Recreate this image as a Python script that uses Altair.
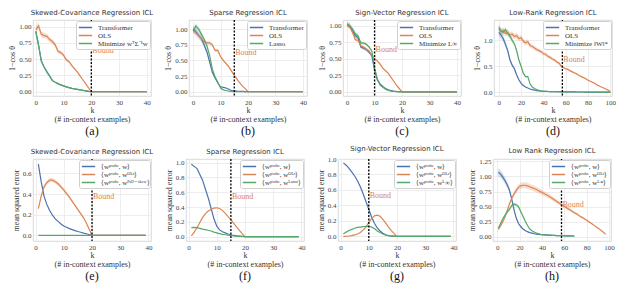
import altair as alt
import pandas as pd

# ---------------- data ----------------
K40 = list(range(0, 41))
K39 = list(range(1, 40))
D_K = list(range(0, 101, 2))
H_K = list(range(1, 98, 2))
H_K_SHORT = list(range(1, 70, 2))

# (a) Skewed-Covariance, 1 - cos
A_TRANSFORMER = [0.92, 0.71, 0.47, 0.38, 0.30, 0.24, 0.17, 0.145, 0.125, 0.105, 0.09, 0.075, 0.063, 0.053, 0.044,
                 0.036, 0.028, 0.021, 0.014, 0.007, 0.0,
                 0, 0, 0, 0, 0, 0, 0, 0, 0, 0, 0, 0, 0, 0, 0, 0, 0, 0, 0, 0]
A_OLS = [0.95, 1.01, 0.88, 0.86, 0.85, 0.80, 0.77, 0.72, 0.62, 0.60, 0.56, 0.49, 0.46, 0.40, 0.35,
         0.30, 0.24, 0.18, 0.12, 0.06, 0.0,
         0, 0, 0, 0, 0, 0, 0, 0, 0, 0, 0, 0, 0, 0, 0, 0, 0, 0, 0, 0]
A_MIN = [0.93, 0.72, 0.47, 0.38, 0.31, 0.24, 0.17, 0.145, 0.125, 0.105, 0.09, 0.075, 0.063, 0.053, 0.044,
         0.036, 0.028, 0.021, 0.014, 0.007, 0.0,
         0, 0, 0, 0, 0, 0, 0, 0, 0, 0, 0, 0, 0, 0, 0, 0, 0, 0, 0, 0]

# (b) Sparse
B_TRANSFORMER = [1.0, 0.96, 0.90, 0.85, 0.75, 0.64, 0.48, 0.31, 0.22, 0.14, 0.08, 0.07, 0.06, 0.04, 0.02,
                 0.015, 0.01, 0.007, 0.005, 0.003, 0.0,
                 0, 0, 0, 0, 0, 0, 0, 0, 0, 0, 0, 0, 0, 0, 0, 0, 0, 0, 0, 0]
B_OLS = [0.98, 0.94, 0.90, 0.85, 0.80, 0.78, 0.78, 0.75, 0.66, 0.66, 0.56, 0.50, 0.45, 0.40, 0.33,
         0.26, 0.20, 0.14, 0.09, 0.05, 0.0,
         0, 0, 0, 0, 0, 0, 0, 0, 0, 0, 0, 0, 0, 0, 0, 0, 0, 0, 0, 0]
B_LASSO = [0.97, 1.05, 1.00, 0.92, 0.84, 0.74, 0.58, 0.36, 0.24, 0.15, 0.06, 0.03, 0.02, 0.01, 0.005,
           0.003, 0.002, 0.001, 0.0, 0.0, 0.0,
           0, 0, 0, 0, 0, 0, 0, 0, 0, 0, 0, 0, 0, 0, 0, 0, 0, 0, 0, 0]

# (c) Sign-Vector
C_TRANSFORMER = [1.02, 1.0, 0.92, 0.85, 0.82, 0.68, 0.66, 0.64, 0.60, 0.55, 0.33, 0.18, 0.12, 0.08, 0.05,
                 0.03, 0.02, 0.01, 0.005, 0.002, 0.0,
                 0, 0, 0, 0, 0, 0, 0, 0, 0, 0, 0, 0, 0, 0, 0, 0, 0, 0, 0, 0]
C_OLS = [1.01, 0.98, 0.90, 0.79, 0.78, 0.70, 0.68, 0.65, 0.62, 0.55, 0.50, 0.47, 0.42, 0.36, 0.32,
         0.28, 0.22, 0.16, 0.10, 0.05, 0.0,
         0, 0, 0, 0, 0, 0, 0, 0, 0, 0, 0, 0, 0, 0, 0, 0, 0, 0, 0, 0]
C_MIN = [1.03, 1.0, 0.95, 0.88, 0.85, 0.74, 0.74, 0.72, 0.68, 0.62, 0.36, 0.20, 0.10, 0.07, 0.04,
         0.02, 0.01, 0.005, 0.002, 0.0, 0.0,
         0, 0, 0, 0, 0, 0, 0, 0, 0, 0, 0, 0, 0, 0, 0, 0, 0, 0, 0, 0]

# (d) Low-Rank (k = 0, 2, ..., 100)
D_TRANSFORMER = [1.15, 1.10, 1.03, 0.92, 0.80, 0.62, 0.52, 0.45, 0.33, 0.24, 0.17, 0.13, 0.10, 0.08, 0.06,
                 0.05, 0.04, 0.03, 0.025, 0.02, 0.017, 0.015, 0.013, 0.012, 0.011, 0.01, 0.009, 0.008,
                 0.007, 0.006, 0.005,
                 0.005, 0.004, 0.004, 0.004, 0.003, 0.003, 0.003, 0.003, 0.002, 0.002, 0.002, 0.002,
                 0.002, 0.001, 0.001, 0.001, 0.001, 0.001, 0.001, 0.0]
D_OLS = [1.22, 1.16, 1.19, 1.13, 1.15, 1.10, 1.12, 1.07, 1.09, 1.03, 1.05, 0.98, 0.95, 0.97, 0.90,
         0.88, 0.85, 0.82, 0.80, 0.78, 0.74, 0.73, 0.69, 0.67, 0.64, 0.62, 0.58, 0.56, 0.50, 0.47, 0.45,
         0.44, 0.41, 0.39, 0.37, 0.35, 0.32, 0.30, 0.28, 0.26, 0.23, 0.21, 0.19, 0.17, 0.14, 0.12,
         0.10, 0.08, 0.06, 0.04, 0.01]
D_MIN = [1.25, 1.18, 1.15, 1.20, 1.13, 1.08, 1.00, 0.93, 0.80, 0.62, 0.50, 0.36, 0.30, 0.30, 0.16,
         0.10, 0.07, 0.05, 0.035, 0.025, 0.02, 0.017, 0.014, 0.012, 0.01, 0.009, 0.008, 0.007, 0.006,
         0.005, 0.005,
         0.004, 0.004, 0.004, 0.003, 0.003, 0.003, 0.003, 0.002, 0.002, 0.002, 0.002, 0.002, 0.001,
         0.001, 0.001, 0.001, 0.001, 0.001, 0.0, 0.0]

# (e) Skewed-Covariance, MSE (k = 1..39)
E_W = [0.69, 0.52, 0.38, 0.30, 0.24, 0.195, 0.16, 0.135, 0.11, 0.09, 0.078, 0.065, 0.055, 0.045, 0.037,
       0.03, 0.022, 0.015, 0.008, 0.0,
       0, 0, 0, 0, 0, 0, 0, 0, 0, 0, 0, 0, 0, 0, 0, 0, 0, 0, 0]
E_OLS = [0.26, 0.38, 0.47, 0.51, 0.535, 0.535, 0.52, 0.50, 0.47, 0.44, 0.405, 0.37, 0.33, 0.29, 0.25,
         0.21, 0.17, 0.12, 0.06, 0.0,
         0, 0, 0, 0, 0, 0, 0, 0, 0, 0, 0, 0, 0, 0, 0, 0, 0, 0, 0]
E_PSD = [0, 0, 0, 0, 0, 0, 0, 0, 0, 0, 0, 0, 0, 0, 0, 0, 0, 0, 0, 0,
         0, 0, 0, 0, 0, 0, 0, 0, 0, 0, 0, 0, 0, 0, 0, 0, 0, 0, 0]

# (f) Sparse, MSE
F_W = [0.98, 0.95, 0.92, 0.84, 0.76, 0.64, 0.52, 0.38, 0.24, 0.14, 0.09, 0.065, 0.05, 0.035, 0.025,
       0.015, 0.01, 0.006, 0.003, 0.0,
       0, 0, 0, 0, 0, 0, 0, 0, 0, 0, 0, 0, 0, 0, 0, 0, 0, 0, 0]
F_OLS = [0.01, 0.06, 0.12, 0.19, 0.26, 0.31, 0.345, 0.37, 0.385, 0.39, 0.38, 0.355, 0.315, 0.27, 0.23,
         0.18, 0.13, 0.085, 0.04, 0.0,
         0, 0, 0, 0, 0, 0, 0, 0, 0, 0, 0, 0, 0, 0, 0, 0, 0, 0, 0]
F_LASSO = [0.12, 0.125, 0.12, 0.11, 0.10, 0.095, 0.085, 0.075, 0.06, 0.05, 0.04, 0.03, 0.025, 0.02, 0.015,
           0.01, 0.007, 0.005, 0.002, 0.0,
           0, 0, 0, 0, 0, 0, 0, 0, 0, 0, 0, 0, 0, 0, 0, 0, 0, 0, 0]

# (g) Sign-Vector, MSE
G_W = [0.95, 0.92, 0.88, 0.83, 0.78, 0.72, 0.64, 0.55, 0.45, 0.35, 0.25, 0.17, 0.11, 0.07, 0.04,
       0.02, 0.01, 0.005, 0.002, 0.0,
       0, 0, 0, 0, 0, 0, 0, 0, 0, 0, 0, 0, 0, 0, 0, 0, 0, 0, 0]
G_OLS = [0.0, 0.0, 0.005, 0.01, 0.02, 0.03, 0.05, 0.08, 0.12, 0.18, 0.23, 0.265, 0.275, 0.26, 0.22,
         0.17, 0.12, 0.075, 0.035, 0.0,
         0, 0, 0, 0, 0, 0, 0, 0, 0, 0, 0, 0, 0, 0, 0, 0, 0, 0, 0]
G_LINF = [0.03, 0.055, 0.075, 0.09, 0.105, 0.115, 0.12, 0.125, 0.13, 0.13, 0.12, 0.10, 0.07, 0.05, 0.03,
          0.015, 0.008, 0.004, 0.002, 0.0,
          0, 0, 0, 0, 0, 0, 0, 0, 0, 0, 0, 0, 0, 0, 0, 0, 0, 0, 0]

# (h) Low-Rank, MSE
H_OLS = [0.12, 0.18, 0.25, 0.33, 0.44, 0.55, 0.64, 0.71, 0.77, 0.82, 0.845, 0.855, 0.855, 0.845, 0.83,
         0.815, 0.80, 0.785, 0.765, 0.745, 0.725, 0.705, 0.685, 0.665, 0.64, 0.615, 0.59, 0.565, 0.54,
         0.515, 0.495, 0.47, 0.45, 0.425, 0.40, 0.38, 0.355, 0.33, 0.31, 0.285, 0.26, 0.235, 0.21,
         0.185, 0.16, 0.135, 0.105, 0.075, 0.04]
H_W = [1.07, 1.04, 0.99, 0.93, 0.86, 0.77, 0.62, 0.45, 0.31, 0.22, 0.17, 0.13, 0.105, 0.085, 0.07,
       0.06, 0.05, 0.045, 0.04, 0.035, 0.032, 0.03, 0.028, 0.026, 0.024, 0.022, 0.02, 0.019, 0.018,
       0.017, 0.016, 0.015, 0.014, 0.013, 0.012]
H_LSTAR = [0.14, 0.22, 0.30, 0.36, 0.41, 0.46, 0.52, 0.54, 0.53, 0.50, 0.42, 0.34, 0.26, 0.19, 0.13,
           0.10, 0.08, 0.06, 0.05, 0.04, 0.035, 0.03, 0.028, 0.026, 0.024, 0.022, 0.02, 0.019, 0.018,
           0.017, 0.016, 0.015, 0.014, 0.013, 0.012]

BLUE, ORANGE, GREEN = "#4C72B0", "#DD8452", "#55A868"
SERIF = "Liberation Serif"
SANS = "DejaVu Sans"

W = 118
TOP_H = 76
BOT_H = 82

PROBE = "⟨wᵖʳᵒᵇᵉ, "


def panel(title, ytitle, series, bound_k, bound_y, caption, xdom, xticks, ydom, yticks, yfmt, h):
    labels = [s[0] for s in series]
    colors = [s[3] for s in series]
    scale = alt.Scale(domain=labels, range=colors)
    legend = alt.Legend(title=None, orient="top-right", offset=1, symbolType="M-1.9,0L1.9,0",
                        symbolSize=49, symbolStrokeWidth=1.5, symbolOffset=3, labelFont=SERIF,
                        labelFontSize=7, labelColor="#333", fillColor="white", strokeColor="#d0d0d0",
                        padding=2, cornerRadius=2, rowPadding=-1, labelLimit=120, labelOffset=8)
    xscale = alt.Scale(domain=xdom, nice=False, zero=False)
    yscale = alt.Scale(domain=ydom, nice=False, zero=False)
    xaxis = alt.Axis(values=xticks, tickCount=len(xticks), format="d", labelOverlap=False,
                     title=["k", "(# in-context examples)"])
    yaxis = alt.Axis(values=yticks, tickCount=len(yticks), format=yfmt, labelOverlap=False, title=ytitle)
    x = alt.X("k:Q", scale=xscale, axis=xaxis)
    y = alt.Y("v:Q", scale=yscale, axis=yaxis)
    layers = []
    for label, ks, vals, color, frac in series:
        df = pd.DataFrame({"k": ks, "v": vals, "s": label})
        df["lo"] = df["v"] * (1 - frac)
        df["hi"] = df["v"] * (1 + frac)
        if frac > 0:
            layers.append(alt.Chart(df).mark_area(opacity=0.25, color=color, clip=True).encode(
                x=x, y=alt.Y("lo:Q", scale=yscale, axis=yaxis), y2="hi:Q"))
    for label, ks, vals, color, frac in series:
        df = pd.DataFrame({"k": ks, "v": vals, "s": label})
        layers.append(alt.Chart(df).mark_line(strokeWidth=1.2, clip=True).encode(
            x=x, y=y, color=alt.Color("s:N", scale=scale, legend=legend)))
    bdf = pd.DataFrame({"k": [bound_k], "v": [bound_y], "t": ["Bound"]})
    layers.append(alt.Chart(bdf).mark_rule(color="black", strokeDash=[2, 1.5], strokeWidth=1.3).encode(x=x))
    layers.append(alt.Chart(bdf).mark_text(align="left", baseline="middle", dx=1, color=ORANGE,
                                           font=SERIF, fontSize=8).encode(x=x, y=y, text="t:N"))
    cdf = pd.DataFrame({"t": [caption]})
    layers.append(alt.Chart(cdf).mark_text(font=SERIF, fontSize=12, baseline="middle", color="#111").encode(
        x=alt.value(W / 2), y=alt.value(h + 35), text="t:N"))
    return alt.layer(*layers).properties(
        width=W, height=h,
        title=alt.TitleParams(title, font=SANS, fontSize=7, fontWeight="normal", color="#333", offset=3))


Y1 = "1−cos θ"
Y2 = "mean squared error"
T40 = [0, 10, 20, 30, 40]
T100 = [0, 20, 40, 60, 80, 100]

pa = panel("Skewed-Covariance Regression ICL", Y1,
           [("Transformer", K40, A_TRANSFORMER, BLUE, 0.0),
            ("OLS", K40, A_OLS, ORANGE, 0.05),
            ("Minimize wᵀΣ⁻¹w", K40, A_MIN, GREEN, 0.0)],
           20, 0.62, "(a)", [-1, 41.5], T40, [-0.065, 1.10], [0, 0.25, 0.5, 0.75, 1.0], ".2f", TOP_H)
pb = panel("Sparse Regression ICL", Y1,
           [("Transformer", K40, B_TRANSFORMER, BLUE, 0.06),
            ("OLS", K40, B_OLS, ORANGE, 0.04),
            ("Lasso", K40, B_LASSO, GREEN, 0.04)],
           15, 0.62, "(b)", [-1.5, 41.5], T40, [-0.068, 1.146], [0, 0.25, 0.5, 0.75, 1.0], ".2f", TOP_H)
pc = panel("Sign-Vector Regression ICL", Y1,
           [("Transformer", K40, C_TRANSFORMER, BLUE, 0.04),
            ("OLS", K40, C_OLS, ORANGE, 0.03),
            ("Minimize L∞", K40, C_MIN, GREEN, 0.03)],
           10, 0.63, "(c)", [-1.5, 41.5], T40, [-0.064, 1.09], [0, 0.25, 0.5, 0.75, 1.0], ".2f", TOP_H)
pd_ = panel("Low-Rank Regression ICL", Y1,
            [("Transformer", D_K, D_TRANSFORMER, BLUE, 0.06),
             ("OLS", D_K, D_OLS, ORANGE, 0.05),
             ("Minimize ‖W‖*", D_K, D_MIN, GREEN, 0.05)],
            57, 0.62, "(d)", [-4.3, 101.5], T100, [-0.074, 1.39], [0, 0.5, 1.0], ".1f", TOP_H)

pe = panel("Skewed-Covariance Regression ICL", Y2,
           [(PROBE + "w⟩", K39, E_W, BLUE, 0.0),
            (PROBE + "wᴼᴸˢ⟩", K39, E_OLS, ORANGE, 0.04),
            (PROBE + "wᴾˢᴰ⁻ˢᵏᵉʷ⟩", K39, E_PSD, GREEN, 0.0)],
           20, 0.37, "(e)", [-0.9, 40.9], T40, [-0.055, 0.74], [0, 0.2, 0.4, 0.6], ".1f", BOT_H)
pf = panel("Sparse Regression ICL", Y2,
           [(PROBE + "w⟩", K39, F_W, BLUE, 0.0),
            (PROBE + "wᴼᴸˢ⟩", K39, F_OLS, ORANGE, 0.0),
            (PROBE + "wᴸᵃˢˢᵒ⟩", K39, F_LASSO, GREEN, 0.0)],
           15, 0.53, "(f)", [-0.9, 40.9], T40, [-0.06, 1.05], [0, 0.2, 0.4, 0.6, 0.8, 1.0], ".1f", BOT_H)
pg = panel("Sign-Vector Regression ICL", Y2,
           [(PROBE + "w⟩", K39, G_W, BLUE, 0.0),
            (PROBE + "wᴼᴸˢ⟩", K39, G_OLS, ORANGE, 0.0),
            (PROBE + "wᴸ∞⟩", K39, G_LINF, GREEN, 0.0)],
           10, 0.52, "(g)", [-0.9, 40.9], T40, [-0.06, 1.0], [0, 0.2, 0.4, 0.6, 0.8, 1.0], ".1f", BOT_H)
ph = panel("Low Rank Regression ICL", Y2,
           [(PROBE + "w⟩", H_K_SHORT, H_W, BLUE, 0.06),
            (PROBE + "wᴼᴸˢ⟩", H_K, H_OLS, ORANGE, 0.06),
            (PROBE + "wᴸ*⟩", H_K_SHORT, H_LSTAR, GREEN, 0.05)],
           57.5, 0.53, "(h)", [-3.8, 101.8], T100, [-0.07, 1.29], [0, 0.25, 0.5, 0.75, 1.0, 1.25], ".2f", BOT_H)

top = alt.hconcat(pa, pb, pc, pd_, spacing=10).resolve_scale(color="independent", x="independent", y="independent").resolve_legend(color="independent")
bot = alt.hconcat(pe, pf, pg, ph, spacing=10).resolve_scale(color="independent", x="independent", y="independent").resolve_legend(color="independent")

chart = alt.vconcat(top, bot, spacing=6).resolve_scale(
    color="independent", x="independent", y="independent").resolve_legend(color="independent").properties(
    padding=0
).configure_view(stroke="#d0d0d0", strokeWidth=0.8).configure_axis(
    labelFont=SERIF, labelFontSize=7, labelColor="#444", titleFont=SERIF, titleFontSize=8,
    titleFontWeight="normal", titleColor="#333", gridColor="#e8e8e8", gridWidth=0.8,
    domain=False, ticks=False, labelPadding=2, titlePadding=2, labelOverlap=False
).configure_axisX(titlePadding=1, titleLineHeight=9)

chart.save("out.html", embed_options={"renderer": "svg", "actions": False})
